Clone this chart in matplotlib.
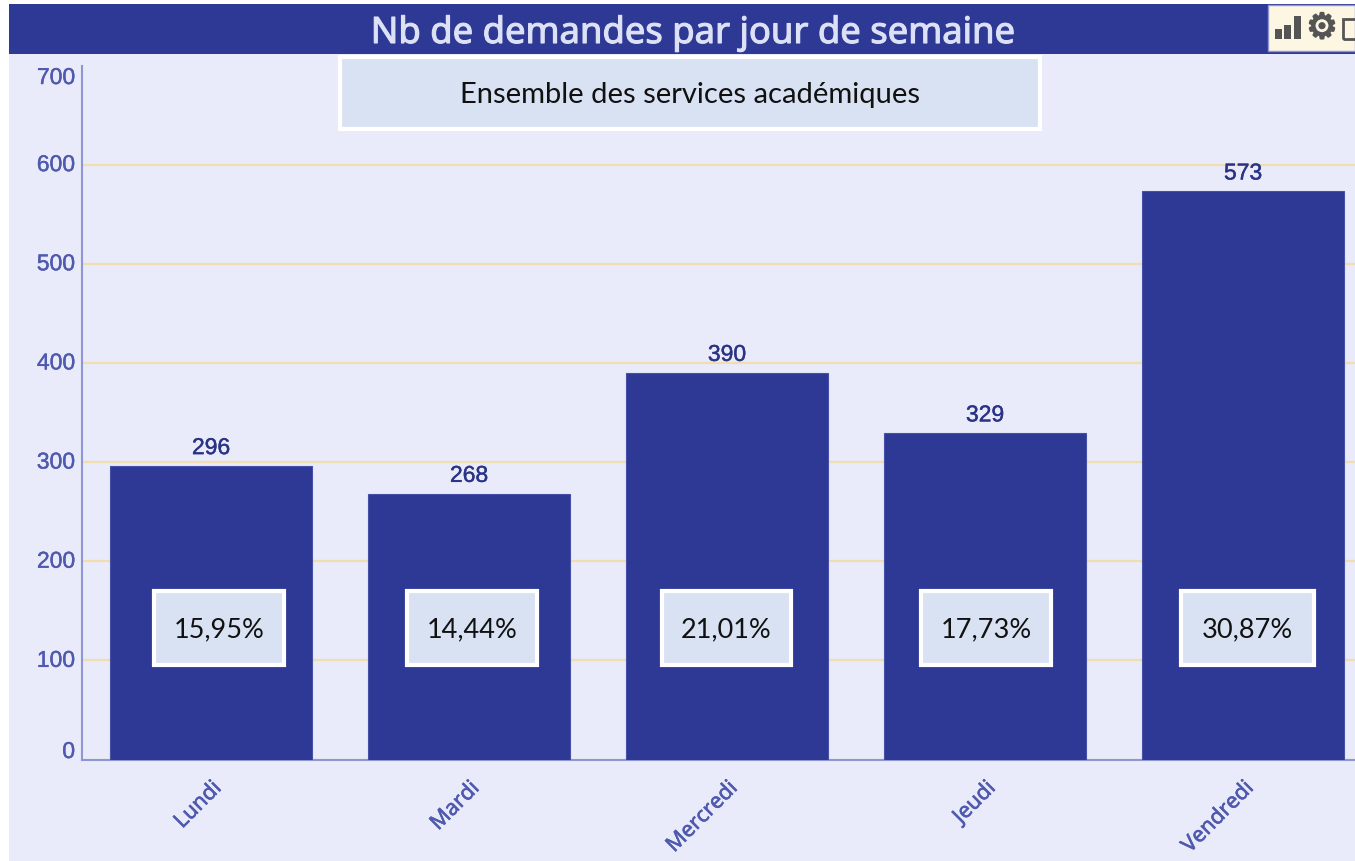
"""Nb de demandes par jour de semaine -- bar chart with percentage overlays."""

import matplotlib
matplotlib.use("Agg")
import matplotlib.pyplot as plt
import matplotlib.patheffects as pe
from matplotlib.patches import Rectangle
from matplotlib.transforms import ScaledTranslation

WIDTH, HEIGHT = 1355, 862

days = ["Lundi", "Mardi", "Mercredi", "Jeudi", "Vendredi"]
counts = [296, 268, 390, 329, 573]
shares = ["15,95%", "14,44%", "21,01%", "17,73%", "30,87%"]
y_ticks = [0, 100, 200, 300, 400, 500, 600, 700]

title = "Nb de demandes par jour de semaine"
subtitle = "Ensemble des services académiques"

NAVY = "#2E3996"
PAGE = "#E9EBFA"
AXIS = "#8F96D4"
TICK = "#4F59AE"
GRID = "#F2DDB0"
BOX = "#D9E2F3"
NARROW = ["Liberation Sans", "DejaVu Sans"]

fig = plt.figure(figsize=(WIDTH / 100, HEIGHT / 100), dpi=100, facecolor="white")


def px_rect(x0, y0, x1, y1, **kw):
    """Rectangle given in image pixels (y from the top)."""
    fig.add_artist(Rectangle((x0 / WIDTH, 1 - y1 / HEIGHT), (x1 - x0) / WIDTH,
                             (y1 - y0) / HEIGHT, transform=fig.transFigure, **kw))


def px_text(x, y, s, **kw):
    return fig.text(x / WIDTH, 1 - y / HEIGHT, s, ha="center", va="center", **kw)


def thicken(text, width, color):
    text.set_path_effects([pe.withStroke(linewidth=width, foreground=color)])


def label_box(x0, y0, x1, y1, s, size):
    px_rect(x0, y0, x1, y1, facecolor=BOX, edgecolor="white", linewidth=3, zorder=5)
    px_text((x0 + x1) / 2, (y0 + y1) / 2 + 1, s, fontsize=size, family="Lato",
            color="#111111", zorder=6)


# page background and header band
px_rect(9, 54, WIDTH, HEIGHT + 5, facecolor=PAGE, edgecolor="none", zorder=-2)
px_rect(9, 4.5, WIDTH, 54.5, facecolor=NAVY, edgecolor="none", zorder=-1)
head = px_text(693, 35, title, fontsize=26.2, family="Noto Sans", color="#DDE1F5")
thicken(head, 0.8, "#DDE1F5")

# plot area: x=0 axis at pixel 82, y=0 at pixel 760.5, y=700 at pixel 66.5
ax = fig.add_axes([82 / WIDTH, 1 - 760.5 / HEIGHT, (WIDTH - 82) / WIDTH, 694 / HEIGHT])
ax.patch.set_visible(False)
ax.set_xlim(-0.5, 4.434)
ax.set_ylim(0, 700)

ax.bar(range(len(days)), counts, width=0.783, color=NAVY, edgecolor="#4650A6",
       linewidth=0.8, zorder=3)
for i, value in enumerate(counts):
    txt = ax.annotate(str(value), (i, value), xytext=(0, 5), textcoords="offset points",
                      ha="center", va="bottom", fontsize=16.5, family=NARROW, color="#2A3385")
    thicken(txt, 0.3, "#2A3385")

ax.set_yticks(y_ticks)
ax.set_xticks(range(len(days)))
ax.set_xticklabels(days, rotation=45, ha="right", rotation_mode="anchor",
                   fontsize=15.5, family="Noto Sans", color=TICK)
ax.tick_params(axis="x", length=0, pad=13)
ax.tick_params(axis="y", length=0, pad=5, labelsize=16.5, labelcolor=TICK)
for lab in ax.get_xticklabels():
    thicken(lab, 0.4, TICK)
for lab in ax.get_yticklabels():
    lab.set_family(NARROW)
    lab.set_verticalalignment("center")
    thicken(lab, 0.3, TICK)

# the end labels sit inside the axis range rather than on their gridlines
y_labels = ax.get_yticklabels()
y_labels[0].set_transform(y_labels[0].get_transform()
                          + ScaledTranslation(0, 8 / 100, fig.dpi_scale_trans))
y_labels[-1].set_transform(y_labels[-1].get_transform()
                           + ScaledTranslation(0, -12 / 100, fig.dpi_scale_trans))

ax.grid(axis="y", color=GRID, linewidth=1.6, zorder=1)
ax.set_axisbelow(True)
ax.get_ygridlines()[-1].set_visible(False)
for side in ("top", "right"):
    ax.spines[side].set_visible(False)
for side in ("left", "bottom"):
    ax.spines[side].set_color(AXIS)
    ax.spines[side].set_linewidth(1.5)

# overlay text boxes
label_box(340, 58, 1040, 130, subtitle, 21)
box_edges = [(154, 284), (407, 537), (662, 791), (921, 1051), (1181, 1314)]
for (x0, x1), share in zip(box_edges, shares):
    label_box(x0, 592, x1, 666, share, 19.5)

# toolbar in the top right corner
px_rect(1268, 6, WIDTH, 52, facecolor="#FDF6E3", edgecolor="#8F96D4", linewidth=1, zorder=2)
for x0, top in [(1275, 30), (1284, 26), (1294, 17)]:
    px_rect(x0, top, x0 + 7, 40, facecolor="#555555", edgecolor="none", zorder=3)
gear = px_text(1322, 29, "\u2699", fontsize=25, family="DejaVu Sans", color="#555555", zorder=3)
thicken(gear, 1.4, "#555555")
px_rect(1343, 20, WIDTH + 5, 40, facecolor="none", edgecolor="#555555", linewidth=2, zorder=3)

fig.savefig("out.png", dpi=100, facecolor="white")
